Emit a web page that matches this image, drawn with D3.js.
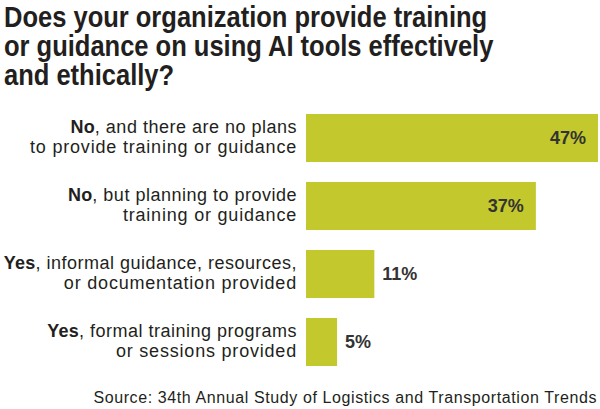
<!DOCTYPE html>
<html>
<head>
<meta charset="utf-8">
<script src="https://cdn.jsdelivr.net/npm/d3@7"></script>
<style>
  body { margin: 0; background: #fff; }
  svg { display: block; font-family: "Liberation Sans", Arial, Helvetica, sans-serif; }
</style>
</head>
<body>
<svg></svg>
<script>
// Chart data
let titleLines = ['Does your organization provide training', 'or guidance on using AI tools effectively', 'and ethically?'];
let boldWords = ['No', 'No', 'Yes', 'Yes'];
let firstLines = [', and there are no plans', ', but planning to provide', ', informal guidance, resources,', ', formal training programs'];
let secondLines = ['to provide training or guidance', 'training or guidance', 'or documentation provided', 'or sessions provided'];
let values = [47, 37, 11, 5];
let source = 'Source: 34th Annual Study of Logistics and Transportation Trends';

// Canvas size
let width = 600;
let height = 409;

let barColor = '#c3c92c';
let textColor = '#231f20';

let svg = d3.select('svg')
    .attr('width', width)
    .attr('height', height);

// Scales
let xScale = d3.scaleLinear()
    .domain([0, 47])
    .range([306, 598]);

let yScale = d3.scaleBand()
    .domain(d3.range(values.length))
    .range([114, 366])
    .paddingInner(0.294)
    .paddingOuter(0);

// Title (tight, condensed look)
svg.append('g')
    .attr('transform', 'translate(4,0) scale(0.88,1)')
    .selectAll('text')
    .data(titleLines)
    .enter()
    .append('text')
    .attr('x', 0)
    .attr('y', (d, i) => 27 + i * 29)
    .attr('font-size', 29)
    .attr('font-weight', 'bold')
    .attr('fill', textColor)
    .text((d) => d);

// Bars
svg.selectAll('rect')
    .data(values)
    .enter()
    .append('rect')
    .attr('x', xScale(0))
    .attr('y', (d, i) => yScale(i))
    .attr('width', (d) => xScale(d) - xScale(0))
    .attr('height', yScale.bandwidth())
    .attr('fill', barColor);

// Value labels: inside for long bars, outside for short ones
svg.selectAll('.value')
    .data(values)
    .enter()
    .append('text')
    .attr('class', 'value')
    .attr('x', (d) => d > 20 ? xScale(d) - 12 : xScale(d) + 8)
    .attr('y', (d, i) => yScale(i) + yScale.bandwidth() / 2 + 6)
    .attr('text-anchor', (d) => d > 20 ? 'end' : 'start')
    .attr('font-size', 18)
    .attr('font-weight', 'bold')
    .attr('fill', '#333333')
    .text((d) => d + '%');

// Category labels, two lines each
let labels = svg.append('g')
    .selectAll('g')
    .data(values)
    .enter()
    .append('g');

let line1 = labels.append('text')
    .attr('x', 297)
    .attr('y', (d, i) => yScale(i) + 19)
    .attr('text-anchor', 'end')
    .attr('font-size', 18)
    .attr('letter-spacing', 0.5)
    .attr('fill', textColor);
line1.append('tspan')
    .attr('font-weight', 'bold')
    .attr('letter-spacing', 0.2)
    .text((d, i) => boldWords[i]);
line1.append('tspan')
    .text((d, i) => firstLines[i]);

labels.append('text')
    .attr('x', 297)
    .attr('y', (d, i) => yScale(i) + 39)
    .attr('text-anchor', 'end')
    .attr('font-size', 18)
    .attr('letter-spacing', 0.8)
    .attr('fill', textColor)
    .text((d, i) => secondLines[i]);

// Source note
svg.append('text')
    .attr('x', 597)
    .attr('y', 403)
    .attr('text-anchor', 'end')
    .attr('font-size', 16)
    .attr('letter-spacing', 0.6)
    .attr('fill', textColor)
    .text(source);
</script>
</body>
</html>
